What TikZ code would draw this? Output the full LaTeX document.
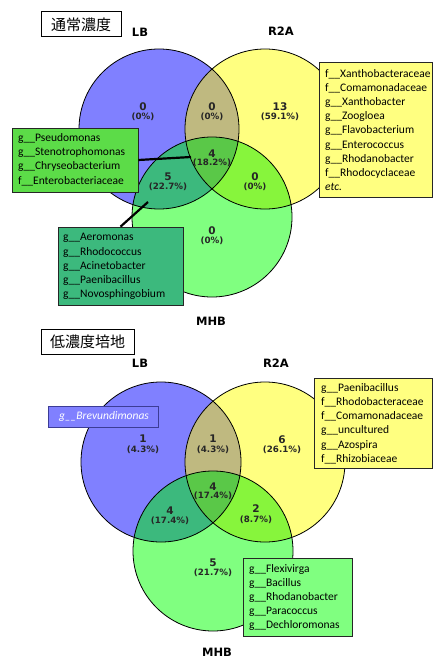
\documentclass[tikz,border=0pt]{standalone}
\usepackage{fontspec}
\setmainfont{Carlito}
\newfontfamily\labfont{DejaVu Sans}
\newfontfamily\jpfont{Noto Sans CJK JP}
\usetikzlibrary{fit}
\definecolor{cLB}{RGB}{128,128,255}
\definecolor{cRA}{RGB}{255,255,128}
\definecolor{cMH}{RGB}{128,255,128}
\definecolor{cLR}{RGB}{191,185,128}
\definecolor{cLM}{RGB}{60,185,125}
\definecolor{cRM}{RGB}{135,245,60}
\definecolor{cAll}{RGB}{90,200,72}
\definecolor{cPs}{RGB}{92,220,72}
\definecolor{cBlueEdge}{RGB}{60,60,150}
\tikzset{
  vennline/.style={draw=black, line width=0.8pt},
  num/.style={font=\labfont\bfseries\fontsize{10.5}{10.5}\selectfont, inner sep=0pt, text=black!85},
  pct/.style={font=\labfont\bfseries\fontsize{8.7}{8.7}\selectfont, inner sep=0pt, text=black!85},
  setlab/.style={font=\labfont\bfseries\fontsize{11.5}{11.5}\selectfont, inner sep=0pt},
  listbox/.style={draw=black!85, line width=0.7pt, inner sep=0pt},
  listtext/.style={font=\fontsize{11.5}{14.2}\selectfont, align=left, anchor=west, inner sep=0pt, text=black},
  titlebox/.style={draw=black, line width=1pt, fill=white, font=\jpfont\fontsize{15}{15}\selectfont, inner sep=0pt},
  connector/.style={draw=black, line width=2.2pt}
}
\begin{document}
\begin{tikzpicture}[x=1pt,y=-1pt]
\useasboundingbox (0,0) rectangle (433,658);
\fill[white] (0,0) rectangle (433,658);
% ---------------- top diagram ----------------
\coordinate (LBa) at (159,129);
\coordinate (RAa) at (265,129);
\coordinate (MHa) at (212,217);
\fill[cLB] (LBa) circle[radius=80pt];
\fill[cRA] (RAa) circle[radius=80pt];
\fill[cMH] (MHa) circle[radius=80pt];
\begin{scope}\clip (LBa) circle[radius=80pt]; \fill[cLR] (RAa) circle[radius=80pt]; \end{scope}
\begin{scope}\clip (LBa) circle[radius=80pt]; \fill[cLM] (MHa) circle[radius=80pt]; \end{scope}
\begin{scope}\clip (RAa) circle[radius=80pt]; \fill[cRM] (MHa) circle[radius=80pt]; \end{scope}
\begin{scope}\clip (LBa) circle[radius=80pt]; \clip (RAa) circle[radius=80pt]; \fill[cAll] (MHa) circle[radius=80pt]; \end{scope}
\draw[vennline] (LBa) circle[radius=80pt];
\draw[vennline] (RAa) circle[radius=80pt];
\draw[vennline] (MHa) circle[radius=80pt];

\node[titlebox, minimum width=80pt, minimum height=25pt] (t1) at (81,24.5) {通常濃度};
\node[setlab] (lb1) at (140,32) {LB};
\node[setlab] (ra1) at (281,31) {R2A};
\node[setlab] (mh1) at (211,321) {MHB};

\node[num] (n1a) at (143,107) {0};   \node[pct] (p1a) at (143,117) {(0\%)};
\node[num] (n1b) at (212,107) {0};   \node[pct] (p1b) at (212,117) {(0\%)};
\node[num] (n1c) at (280,107) {13};  \node[pct] (p1c) at (280,117) {(59.1\%)};
\node[num] (n1d) at (212,154) {4};   \node[pct] (p1d) at (212,163) {(18.2\%)};
\node[num] (n1e) at (255,177) {0};   \node[pct] (p1e) at (255,187) {(0\%)};
\node[num] (n1f) at (168,177) {5};   \node[pct] (p1f) at (168,187) {(22.7\%)};
\node[num] (n1g) at (212,231) {0};   \node[pct] (p1g) at (212,241) {(0\%)};

\node[listbox, fill=cRA, fit={(319,62)(432.6,197)}] (yb1) {};
\node[listtext] (yb1t) at (325,130) {f\_\_Xanthobacteraceae\\f\_\_Comamonadaceae\\g\_\_Xanthobacter\\g\_\_Zoogloea\\g\_\_Flavobacterium\\g\_\_Enterococcus\\g\_\_Rhodanobacter\\f\_\_Rhodocyclaceae\\\textit{etc.}};

\node[listbox, fill=cPs, fit={(12,128)(138,192)}] (pb) {};
\node[listtext] (pbt) at (18,159.5) {g\_\_Pseudomonas\\g\_\_Stenotrophomonas\\g\_\_Chryseobacterium\\f\_\_Enterobacteriaceae};

\node[listbox, fill=cLM, fit={(58,227)(183,305)}] (ab) {};
\node[listtext] (abt) at (63,266.5) {g\_\_Aeromonas\\g\_\_Rhodococcus\\g\_\_Acinetobacter\\g\_\_Paenibacillus\\g\_\_Novosphingobium};

\coordinate (pend) at (191,157);
\coordinate (aend) at (148,202);
\draw[connector] (pb.east) -- (pend);
\draw[connector] (ab.north) -- (aend);

% ---------------- bottom diagram ----------------
\coordinate (LBb) at (161,462);
\coordinate (RAb) at (265,462);
\coordinate (MHb) at (213,551);
\fill[cLB] (LBb) circle[radius=80pt];
\fill[cRA] (RAb) circle[radius=80pt];
\fill[cMH] (MHb) circle[radius=80pt];
\begin{scope}\clip (LBb) circle[radius=80pt]; \fill[cLR] (RAb) circle[radius=80pt]; \end{scope}
\begin{scope}\clip (LBb) circle[radius=80pt]; \fill[cLM] (MHb) circle[radius=80pt]; \end{scope}
\begin{scope}\clip (RAb) circle[radius=80pt]; \fill[cRM] (MHb) circle[radius=80pt]; \end{scope}
\begin{scope}\clip (LBb) circle[radius=80pt]; \clip (RAb) circle[radius=80pt]; \fill[cAll] (MHb) circle[radius=80pt]; \end{scope}
\draw[vennline] (LBb) circle[radius=80pt];
\draw[vennline] (RAb) circle[radius=80pt];
\draw[vennline] (MHb) circle[radius=80pt];

\node[titlebox, minimum width=93pt, minimum height=25pt] (t2) at (87.5,341.5) {低濃度培地};
\node[setlab] (lb2) at (140,363) {LB};
\node[setlab] (ra2) at (276,363) {R2A};
\node[setlab] (mh2) at (217,652) {MHB};

\node[num] (n2a) at (143,439) {1};   \node[pct] (p2a) at (143,450) {(4.3\%)};
\node[num] (n2b) at (213,439) {1};   \node[pct] (p2b) at (213,450) {(4.3\%)};
\node[num] (n2c) at (282,440) {6};   \node[pct] (p2c) at (282,450) {(26.1\%)};
\node[num] (n2d) at (213,487) {4};   \node[pct] (p2d) at (213,496) {(17.4\%)};
\node[num] (n2e) at (170,511) {4};   \node[pct] (p2e) at (170,521) {(17.4\%)};
\node[num] (n2f) at (256,509) {2};   \node[pct] (p2f) at (256,520) {(8.7\%)};
\node[num] (n2g) at (213,563) {5};   \node[pct] (p2g) at (213,573) {(21.7\%)};

\node[listbox, draw=cBlueEdge, fill=cLB, fit={(48,406)(158,427)}] (bb) {};
\node[font=\itshape\fontsize{11.5}{14}\selectfont, text=white, inner sep=0pt] (bbt) at (104,416.5) {g\_\_Brevundimonas};

\node[listbox, fill=cRA, fit={(314,378)(432.6,468)}] (yb2) {};
\node[listtext] (yb2t) at (321,423.5) {g\_\_Paenibacillus\\f\_\_Rhodobacteraceae\\f\_\_Comamonadaceae\\g\_\_uncultured\\g\_\_Azospira\\f\_\_Rhizobiaceae};

\node[listbox, fill=cMH, fit={(243,558)(352,636)}] (gb2) {};
\node[listtext] (gb2t) at (249,597.5) {g\_\_Flexivirga\\g\_\_Bacillus\\g\_\_Rhodanobacter\\g\_\_Paracoccus\\g\_\_Dechloromonas};
\end{tikzpicture}
\end{document}
